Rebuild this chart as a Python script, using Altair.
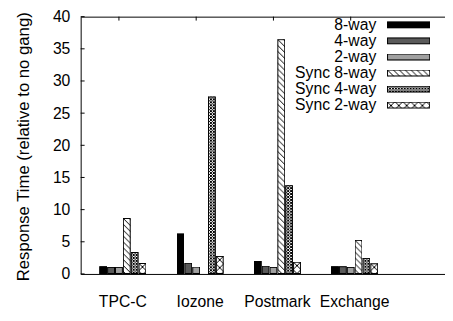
import base64
import altair as alt
import pandas as pd

# ---- data ----
workloads = ["TPC-C", "Iozone", "Postmark", "Exchange"]
series = ["8-way", "4-way", "2-way", "Sync 8-way", "Sync 4-way", "Sync 2-way"]
v_8way = [1.2, 6.3, 2.0, 1.2]
v_4way = [1.1, 1.75, 1.3, 1.2]
v_2way = [1.1, 1.15, 1.1, 1.1]
v_sync8 = [8.7, None, 36.5, 5.3]
v_sync4 = [3.4, 27.6, 13.8, 2.5]
v_sync2 = [1.7, 2.8, 1.9, 1.65]
y_ticks = [0, 5, 10, 15, 20, 25, 30, 35, 40]
y_title = "Response Time (relative to no gang)"

values = [v_8way, v_4way, v_2way, v_sync8, v_sync4, v_sync2]
rows = []
for s, vals in zip(series, values):
    for w, v in zip(workloads, vals):
        if v is not None:
            rows.append({"workload": w, "series": s, "value": v})
df = pd.DataFrame(rows)


# ---- fill patterns (as small svg images) ----
def svg_uri(body):
    svg = ("<svg xmlns='http://www.w3.org/2000/svg' width='100%' height='100%'>" + body +
           "<rect width='100%' height='100%' fill='none' stroke='black' stroke-width='2'/></svg>")
    return "data:image/svg+xml;base64," + base64.b64encode(svg.encode()).decode()


def solid(c):
    return svg_uri(f"<rect width='100%' height='100%' fill='{c}'/>")


def pattern(size, path):
    return svg_uri(
        f"<defs><pattern id='p' width='{size}' height='{size}' patternUnits='userSpaceOnUse'>"
        f"<rect width='{size}' height='{size}' fill='white'/>"
        f"<path d='{path}' stroke='black' stroke-width='1' fill='none'/></pattern></defs>"
        "<rect width='100%' height='100%' fill='url(#p)'/>")


fills = {
    "8-way": solid("#000000"),
    "4-way": solid("#5a5a5a"),
    "2-way": solid("#a0a0a0"),
    "Sync 8-way": pattern(6, "M-1,-1 L7,7 M-1,5 L1,7 M5,-1 L7,1"),
    "Sync 4-way": pattern(3, "M-1,-1 L4,4 M-1,4 L4,-1"),
    "Sync 2-way": pattern(8, "M-1,-1 L9,9 M-1,9 L9,-1"),
}
df["url"] = df["series"].map(fills)
leg = pd.DataFrame({"series": series})
leg["url"] = leg["series"].map(fills)

FONT = "Liberation Sans"
W, H = 371, 262
BP = 20 / 48

xscale = alt.Scale(domain=workloads, paddingInner=0.39, paddingOuter=0.553, align=0.218)
yscale = alt.Scale(domain=[0, 40], nice=False, zero=True)

bars = alt.Chart(df).mark_image(aspect=False).encode(
    x=alt.X("workload:N", scale=xscale, sort=workloads,
            axis=alt.Axis(title=None, orient="bottom", labelAngle=0, labelFontSize=16,
                          labelFont=FONT, labelColor="black", labelPadding=20, ticks=False,
                          domainColor="black", bandPosition=BP, labelBaseline="top")),
    xOffset=alt.XOffset("series:N", scale=alt.Scale(domain=series, paddingInner=0, paddingOuter=0)),
    y=alt.Y("value:Q", scale=yscale,
            axis=alt.Axis(values=y_ticks, title=y_title, grid=False, tickSize=0, labelPadding=11,
                          labelFontSize=16, labelFont=FONT, labelColor="black",
                          domainColor="black", titleFontSize=17, titleFont=FONT,
                          titleFontWeight="normal", titleColor="black", titleAngle=270,
                          titleX=-53, titleY=132, titleAlign="center",
                          titleBaseline="alphabetic")),
    y2=alt.datum(0),
    url="url:N",
)

ytick_df = pd.DataFrame({"v": y_ticks})
yticks = alt.Chart(ytick_df).mark_rule(color="black", strokeWidth=1).encode(
    y=alt.Y("v:Q", scale=yscale, axis=None),
    x=alt.value(0), x2=alt.value(4),
)

top_df = pd.DataFrame({"workload": workloads})
top_ticks = alt.Chart(top_df).mark_rule(color="black", strokeWidth=1).encode(
    x=alt.X("workload:N", scale=xscale, sort=workloads, bandPosition=BP,
            axis=alt.Axis(orient="top", labels=False, ticks=False, title=None,
                          domainColor="black")),
    y=alt.value(0), y2=alt.value(4),
)

leg_y = alt.Y("series:N", sort=series,
              scale=alt.Scale(type="band", domain=series, range=[0.2, 98.2],
                              paddingInner=0.571, paddingOuter=0.2855),
              axis=None)
leg_text = alt.Chart(leg).mark_text(align="right", baseline="middle", fontSize=16,
                                    font=FONT, color="black").encode(
    y=leg_y, x=alt.value(301), text="series:N")
leg_sw = alt.Chart(leg).mark_image(aspect=False).encode(
    y=leg_y, x=alt.value(312), x2=alt.value(356), url="url:N")

chart = alt.layer(yticks, top_ticks, bars, leg_text, leg_sw).resolve_scale(
    y="independent"
).resolve_axis(x="independent", y="independent").properties(
    width=W, height=H,
    padding={"left": 74, "top": 6, "right": 0, "bottom": 40},
    autosize=alt.AutoSizeParams(type="none"),
    background="white",
).configure_view(stroke=None)

chart.save("out.html", embed_options={"renderer": "svg", "actions": False})
